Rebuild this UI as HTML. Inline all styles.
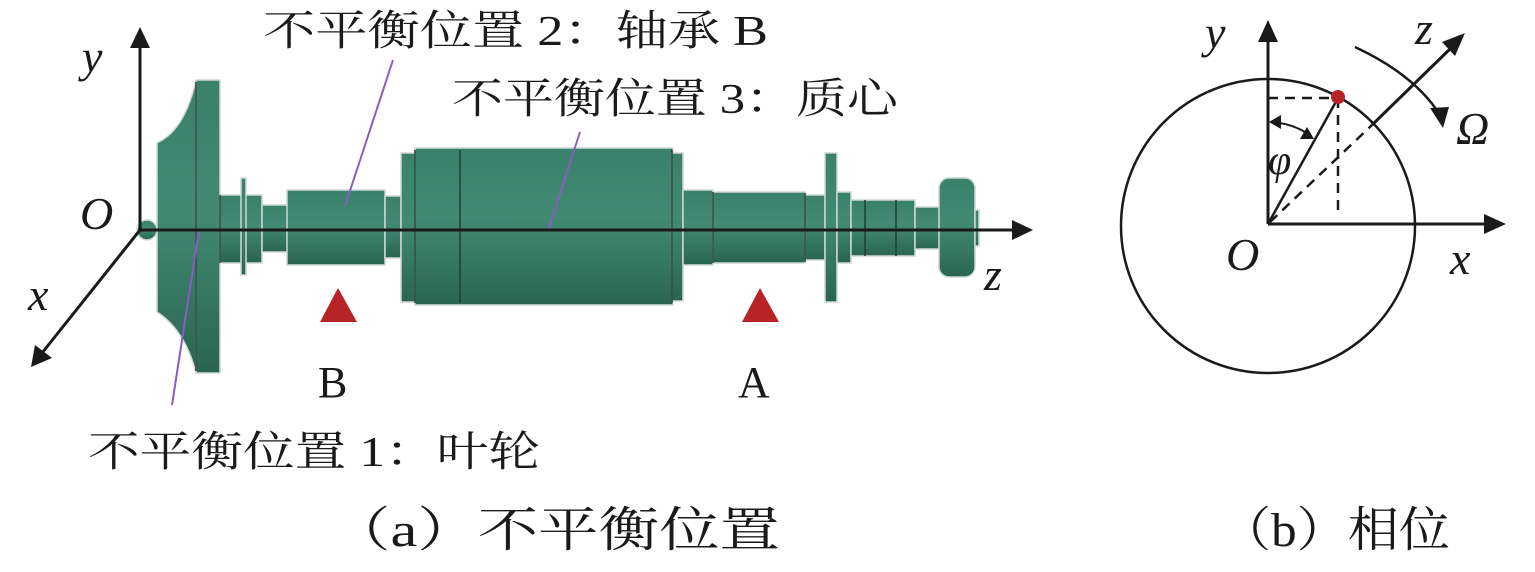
<!DOCTYPE html>
<html><head><meta charset="utf-8"><style>
html,body{margin:0;padding:0;background:#fff;}
svg{display:block;}
.t{font-family:"Liberation Serif","Noto Serif CJK SC",serif;fill:#1a1a1a;}
.i{font-family:"Liberation Serif",serif;font-style:italic;fill:#1a1a1a;}
</style></head><body>
<svg width="1535" height="572" viewBox="0 0 1535 572" xmlns="http://www.w3.org/2000/svg">
<defs>
<linearGradient id="g" x1="0" y1="0" x2="0" y2="1">
<stop offset="0" stop-color="#3a816b"/><stop offset="0.45" stop-color="#428a73"/><stop offset="1" stop-color="#2a6552"/>
</linearGradient>
</defs>
<g fill="url(#g)" stroke="#cfd8d4" stroke-width="1.5">
<circle cx="147" cy="230" r="10"/>
<path d="M157,143 Q185,130 196,80 L196,373 Q185,330 157,312 Z"/>
<rect x="196" y="80" width="24" height="293"/>
<rect x="220" y="195" width="42" height="68"/>
<rect x="241" y="178" width="5" height="97"/>
<rect x="262" y="205" width="26" height="47"/>
<rect x="287" y="190" width="98" height="75"/>
<rect x="385" y="196" width="16" height="62"/>
<rect x="401" y="153" width="15" height="149"/>
<rect x="415" y="148" width="258" height="157"/>
<rect x="672" y="153" width="11" height="148"/>
<rect x="683" y="190" width="30" height="75"/>
<rect x="713" y="192" width="92" height="71"/>
<rect x="805" y="195" width="20" height="65"/>
<rect x="825" y="153" width="12" height="149"/>
<rect x="837" y="192" width="14" height="71"/>
<rect x="851" y="200" width="64" height="56"/>
<rect x="915" y="207" width="25" height="42"/>
<rect x="939" y="178" width="36" height="99" rx="10"/>
<rect x="975" y="210" width="4" height="36"/>
</g>
<g stroke="#1f3f34" stroke-width="1.5" fill="none">
<line x1="196" y1="82" x2="196" y2="371"/>
<line x1="220" y1="195" x2="220" y2="263"/>
<line x1="415" y1="150" x2="415" y2="303"/>
<line x1="460" y1="150" x2="460" y2="303"/>
<line x1="672" y1="150" x2="672" y2="303"/>
<line x1="713" y1="192" x2="713" y2="263"/>
<line x1="805" y1="193" x2="805" y2="262"/>
<line x1="865" y1="200" x2="865" y2="256"/>
<line x1="896" y1="200" x2="896" y2="256"/>
</g>
<g stroke="#8a5cc4" stroke-width="2">
<line x1="393" y1="60" x2="345" y2="206"/>
<line x1="580" y1="132" x2="548" y2="231"/>
<line x1="199" y1="230" x2="172" y2="405"/>
</g>
<g stroke="#1a1a1a" stroke-width="3" fill="none">
<line x1="140" y1="230" x2="140" y2="44"/>
<line x1="140" y1="230" x2="1015" y2="230"/>
<line x1="140" y1="230" x2="42" y2="353"/>
</g>
<g fill="#1a1a1a">
<polygon points="140,27 130,48 150,48"/>
<polygon points="1033,230 1012,220 1012,240"/>
<polygon points="31,367 35,345 52,358"/>
</g>
<polygon points="338,288 320,322 357,322" fill="#b82327"/>
<polygon points="760,288 742,322 779,322" fill="#b82327"/>
<text class="i" x="82" y="72" font-size="46">y</text>
<text class="i" x="80" y="229" font-size="46">O</text>
<text class="i" x="28" y="310" font-size="46">x</text>
<text class="i" x="984" y="290" font-size="46">z</text>
<text class="t" x="263" y="45" font-size="42" textLength="505" lengthAdjust="spacingAndGlyphs">不平衡位置 2：轴承 B</text>
<text class="t" x="452" y="113" font-size="42" textLength="446" lengthAdjust="spacingAndGlyphs">不平衡位置 3：质心</text>
<text class="t" x="88" y="466" font-size="42" textLength="452" lengthAdjust="spacingAndGlyphs">不平衡位置 1：叶轮</text>
<text class="t" x="318" y="397" font-size="44">B</text>
<text class="t" x="738" y="397" font-size="44">A</text>
<text class="t" x="330" y="546" font-size="48" textLength="450" lengthAdjust="spacingAndGlyphs">（a）不平衡位置</text>
<text class="t" x="1220" y="546" font-size="48" textLength="230" lengthAdjust="spacingAndGlyphs">（b）相位</text>
<circle cx="1268" cy="226" r="147" fill="none" stroke="#1a1a1a" stroke-width="2.5"/>
<g stroke="#1a1a1a" stroke-width="3" fill="none">
<line x1="1268" y1="224" x2="1268" y2="38"/>
<line x1="1268" y1="224" x2="1488" y2="224"/>
<line x1="1372" y1="125" x2="1452" y2="47"/>
<line x1="1268" y1="224" x2="1338" y2="98" stroke-width="2.5"/>
<path d="M1355,47 Q1415,75 1440,115" stroke-width="2.5"/>
<path d="M1272,122 Q1295,124 1311,136" stroke-width="2"/>
</g>
<g stroke="#1a1a1a" stroke-width="2.5" stroke-dasharray="10,7" fill="none">
<line x1="1268" y1="98" x2="1338" y2="98"/>
<line x1="1338" y1="98" x2="1338" y2="212"/>
<line x1="1270" y1="222" x2="1372" y2="125"/>
</g>
<g fill="#1a1a1a">
<polygon points="1268,20 1258,42 1278,42"/>
<polygon points="1506,224 1484,214 1484,234"/>
<polygon points="1465,33 1455,56 1442,42"/>
<polygon points="1443,128 1430,108 1449,107"/>
<polygon points="1269,122 1281,115 1281,129"/>
<polygon points="1314,139 1300,139 1307,127"/>
</g>
<circle cx="1338" cy="97" r="7" fill="#b82327"/>
<text class="i" x="1205" y="48" font-size="46">y</text>
<text class="i" x="1415" y="44" font-size="46">z</text>
<text class="i" x="1456" y="144" font-size="46">Ω</text>
<text class="i" x="1268" y="174" font-size="42">φ</text>
<text class="i" x="1226" y="270" font-size="46">O</text>
<text class="i" x="1450" y="274" font-size="46">x</text>
</svg>
</body></html>
